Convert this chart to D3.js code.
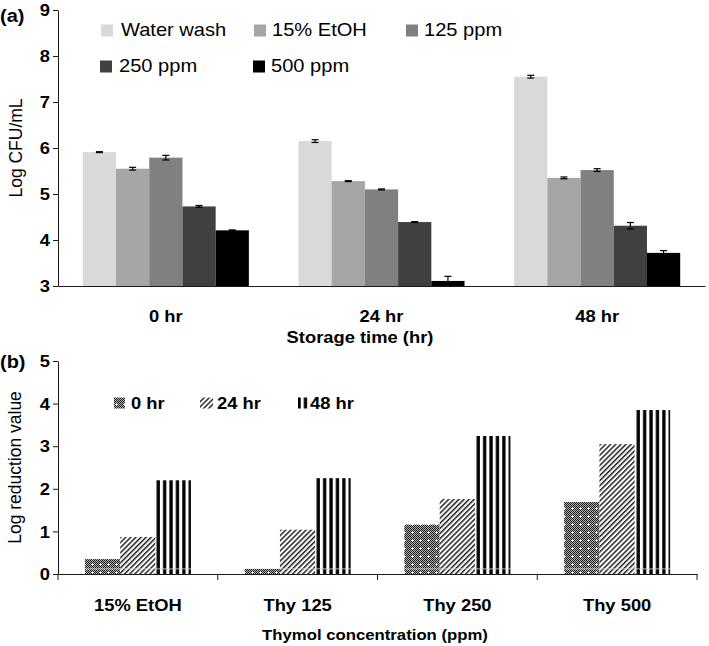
<!DOCTYPE html>
<html>
<head>
<meta charset="utf-8">
<script src="https://cdn.jsdelivr.net/npm/d3@7"></script>
<style>
html,body{margin:0;padding:0;background:#fff;}
svg{display:block;font-family:"Liberation Sans",Arial,Helvetica,sans-serif;}
</style>
</head>
<body>
<svg id="chart" width="709" height="646"></svg>
<script>
// ---------- Data: panel (a) ----------
const timeCats = ["0 hr", "24 hr", "48 hr"];
const treatments = ["Water wash", "15% EtOH", "125 ppm", "250 ppm", "500 ppm"];
const logCfu0h  = [5.91, 5.55, 5.79, 4.73, 4.21];
const logCfu24h = [6.15, 5.28, 5.10, 4.39, 3.11];
const logCfu48h = [7.55, 5.35, 5.52, 4.31, 3.72];
const err0h  = [0.01, 0.03, 0.05, 0.02, 0.01];
const err24h = [0.03, 0.01, 0.01, 0.01, 0.10];
const err48h = [0.03, 0.02, 0.03, 0.07, 0.05];
const yTicksA = [3, 4, 5, 6, 7, 8, 9];

// ---------- Data: panel (b) ----------
const concCats = ["15% EtOH", "Thy 125", "Thy 250", "Thy 500"];
const storageSeries = ["0 hr", "24 hr", "48 hr"];
const reduction0h  = [0.35, 0.12, 1.16, 1.69];
const reduction24h = [0.87, 1.04, 1.76, 3.05];
const reduction48h = [2.20, 2.25, 3.24, 3.85];
const yTicksB = [0, 1, 2, 3, 4, 5];

// ---------- Setup ----------
const svg = d3.select("#chart");
svg.append("rect").attr("width", 709).attr("height", 646).attr("fill", "#fff");
const SX = 1.08;           // slight horizontal stretch of the original typesetting
const AXIS = "#1a1a1a";

function txt(x, y, s, o) {
  o = o || {};
  const t = svg.append("text")
    .attr("transform", o.rotate
      ? `translate(${x},${y}) rotate(-90) scale(1,${SX})`
      : `translate(${x},${y}) scale(${SX},1)`)
    .attr("font-size", o.size || 17)
    .attr("font-weight", o.weight || "normal")
    .attr("text-anchor", o.anchor || "start")
    .attr("fill", "#000")
    .text(s);
  return t;
}

// ---------- Patterns ----------
const defs = svg.append("defs");
const chk = defs.append("pattern").attr("id", "checker")
  .attr("patternUnits", "userSpaceOnUse").attr("width", 2).attr("height", 2);
chk.append("rect").attr("width", 2).attr("height", 2).attr("fill", "#b0b0b0");
chk.append("rect").attr("width", 1).attr("height", 1).attr("fill", "#1e1e1e");
chk.append("rect").attr("x", 1).attr("y", 1).attr("width", 1).attr("height", 1).attr("fill", "#1e1e1e");

const p0 = defs.append("pattern").attr("id", "pat0")
  .attr("patternUnits", "userSpaceOnUse").attr("width", 8).attr("height", 8);
p0.append("rect").attr("width", 8).attr("height", 8).attr("fill", "url(#checker)");
p0.append("rect").attr("x", 3).attr("y", 4).attr("width", 3).attr("height", 1).attr("fill", "#fff").attr("opacity", 0.75);
p0.append("rect").attr("x", 4).attr("y", 3).attr("width", 1).attr("height", 3).attr("fill", "#fff").attr("opacity", 0.75);

const p1 = defs.append("pattern").attr("id", "pat24")
  .attr("patternUnits", "userSpaceOnUse").attr("width", 3.6).attr("height", 10)
  .attr("patternTransform", "rotate(45)");
p1.append("rect").attr("width", 3.6).attr("height", 10).attr("fill", "#fff");
p1.append("rect").attr("width", 1.5).attr("height", 10).attr("fill", "#222");

const p2 = defs.append("pattern").attr("id", "pat48")
  .attr("patternUnits", "userSpaceOnUse").attr("width", 6.4).attr("height", 10);
p2.append("rect").attr("width", 6.4).attr("height", 10).attr("fill", "#fff");
p2.append("rect").attr("x", 3.0).attr("width", 3.3).attr("height", 10).attr("fill", "#000");

// ================= Panel (a) =================
const colorsA = ["#d9d9d9", "#a6a6a6", "#808080", "#404040", "#000000"];
const seriesA = [logCfu0h, logCfu24h, logCfu48h];
const errsA = [err0h, err24h, err48h];

const x0A = d3.scaleBand().domain(timeCats).range([58, 705]).padding(0);
const offA = x0A.bandwidth() * 0.115;
const x1A = d3.scaleBand().domain(treatments).range([offA, x0A.bandwidth() - offA]).padding(0);
const yA = d3.scaleLinear().domain([3, 9]).range([286, 10]);

const gA = svg.append("g");
timeCats.forEach((tc, i) => {
  const g = gA.append("g").attr("transform", `translate(${x0A(tc)},0)`);
  treatments.forEach((tr, j) => {
    const v = seriesA[i][j];
    g.append("rect")
      .attr("x", x1A(tr)).attr("y", yA(v))
      .attr("width", x1A.bandwidth()).attr("height", yA(3) - yA(v))
      .attr("fill", colorsA[j]);
  });
  treatments.forEach((tr, j) => {
    const v = seriesA[i][j], e = errsA[i][j];
    const cx = x1A(tr) + x1A.bandwidth() / 2;
    const eg = g.append("g").attr("stroke", "#000").attr("stroke-width", 1.2);
    eg.append("line").attr("x1", cx).attr("x2", cx).attr("y1", yA(v - e)).attr("y2", yA(v + e));
    eg.append("line").attr("x1", cx - 3.5).attr("x2", cx + 3.5).attr("y1", yA(v + e)).attr("y2", yA(v + e));
    eg.append("line").attr("x1", cx - 3.5).attr("x2", cx + 3.5).attr("y1", yA(v - e)).attr("y2", yA(v - e));
  });
});

// axes (a)
const axA = svg.append("g").attr("transform", "translate(58,0)")
  .call(d3.axisLeft(yA).tickValues(yTicksA).tickSize(5).tickSizeOuter(0).tickFormat(""));
axA.selectAll("path,line").attr("stroke", AXIS);
const axAx = svg.append("g").attr("transform", "translate(0,286)")
  .call(d3.axisBottom(x0A).tickSize(0).tickSizeOuter(0).tickFormat(""));
axAx.selectAll("path").attr("stroke", AXIS);

yTicksA.forEach(t => txt(50, yA(t) + 6.2, String(t), {size: 17, weight: "bold", anchor: "end"}));
timeCats.forEach(tc => txt(x0A(tc) + x0A.bandwidth() / 2, 322, tc, {size: 17, weight: "bold", anchor: "middle"}));
txt(360, 343, "Storage time (hr)", {size: 17, weight: "bold", anchor: "middle"});
txt(22, yA(6), "Log CFU/mL", {size: 17.5, anchor: "middle", rotate: true});
txt(0, 21.5, "(a)", {size: 18.5, weight: "bold"});

// legend (a)
const legA = [
  {x: 101, y: 24.5, tx: 121, ty: 36},
  {x: 254, y: 24.5, tx: 272, ty: 36},
  {x: 406, y: 24.5, tx: 424, ty: 36},
  {x: 100, y: 60.5, tx: 119, ty: 72},
  {x: 253, y: 60.5, tx: 271, ty: 72}
];
treatments.forEach((tr, j) => {
  const L = legA[j];
  svg.append("rect").attr("x", L.x).attr("y", L.y).attr("width", 12).attr("height", 12).attr("fill", colorsA[j]);
  txt(L.tx, L.ty, tr, {size: 18.6});
});

// ================= Panel (b) =================
const seriesB = [reduction0h, reduction24h, reduction48h];
const patsB = ["url(#pat0)", "url(#pat24)", "url(#pat48)"];

const x0B = d3.scaleBand().domain(concCats).range([58, 697]).padding(0);
const offB = x0B.bandwidth() * 0.168;
const x1B = d3.scaleBand().domain(storageSeries).range([offB, x0B.bandwidth() - offB]).padding(0);
const yB = d3.scaleLinear().domain([0, 5]).range([574, 361]);

const gB = svg.append("g");
concCats.forEach((cc, i) => {
  storageSeries.forEach((s, j) => {
    const v = seriesB[j][i];
    const x = x0B(cc) + x1B(s);
    gB.append("rect")
      .attr("x", x).attr("y", yB(v))
      .attr("width", x1B.bandwidth()).attr("height", yB(0) - yB(v))
      .attr("fill", patsB[j]);
    if (v > 0.13) {
      gB.append("line").attr("x1", x).attr("x2", x + x1B.bandwidth())
        .attr("y1", yB(0.12)).attr("y2", yB(0.12))
        .attr("stroke", "#d8d8d8").attr("stroke-width", 1).attr("opacity", 0.8);
    }
  });
});

// axes (b)
const axB = svg.append("g").attr("transform", "translate(58,0)")
  .call(d3.axisLeft(yB).tickValues(yTicksB).tickSize(5).tickSizeOuter(0).tickFormat(""));
axB.selectAll("path,line").attr("stroke", AXIS);
const axBx = svg.append("g").attr("transform", "translate(0,574)")
  .call(d3.axisBottom(x0B).tickSize(0).tickSizeOuter(0).tickFormat(""));
axBx.selectAll("path").attr("stroke", AXIS);
const bounds = concCats.map(c => x0B(c)).concat([x0B.range()[1]]);
svg.append("g").selectAll("line").data(bounds).join("line")
  .attr("x1", d => d).attr("x2", d => d).attr("y1", 574).attr("y2", 580)
  .attr("stroke", AXIS);

yTicksB.forEach(t => txt(50, yB(t) + 6.2, String(t), {size: 17, weight: "bold", anchor: "end"}));
concCats.forEach(cc => txt(x0B(cc) + x0B.bandwidth() / 2, 611, cc, {size: 17, weight: "bold", anchor: "middle"}));
txt(375, 640, "Thymol concentration (ppm)", {size: 15.5, weight: "bold", anchor: "middle"});
txt(21, yB(2.5), "Log reduction value", {size: 17.5, anchor: "middle", rotate: true});
txt(0, 368, "(b)", {size: 18.5, weight: "bold"});

// legend (b)
const legB = [
  {x: 114, w: 11, tx: 131},
  {x: 200, w: 13, tx: 217},
  {x: 298, w: 10, tx: 310}
];
storageSeries.forEach((s, j) => {
  const L = legB[j];
  svg.append("rect").attr("x", L.x).attr("y", 397.5).attr("width", L.w).attr("height", 11).attr("fill", patsB[j]);
  txt(L.tx, 409, s, {size: 17, weight: "bold"});
});
</script>
</body>
</html>
